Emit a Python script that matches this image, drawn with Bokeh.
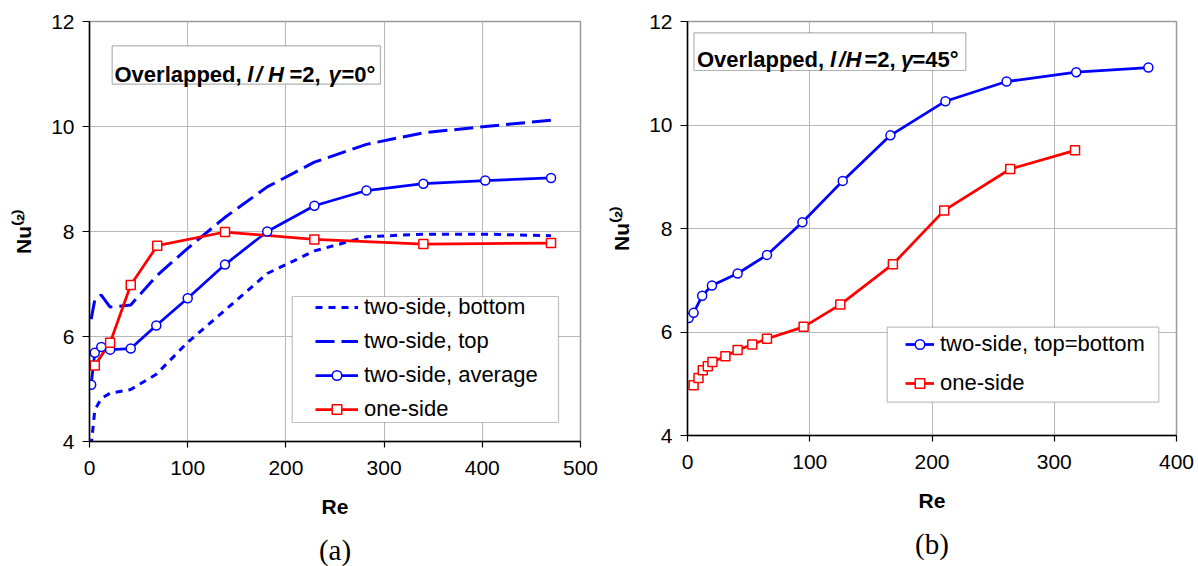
from bokeh.plotting import figure
from bokeh.layouts import row
from bokeh.models import Legend, LegendItem, BoxAnnotation, Label, Title, Range1d, FixedTicker
from bokeh.embed import file_html
from bokeh.resources import INLINE

# ---------------- data: panel (a) gamma = 0 deg ----------------
re_a = [1.7, 5.4, 12, 21, 42, 68, 100, 138, 181, 229, 282, 340, 403, 470]
nu_bottom_a = [3.92, 4.60, 4.82, 4.92, 4.99, 5.28, 5.89, 6.50, 7.20, 7.63, 7.90, 7.95, 7.95, 7.92]
nu_top_a = [6.33, 6.70, 6.79, 6.56, 6.60, 7.15, 7.68, 8.27, 8.85, 9.32, 9.66, 9.88, 10.00, 10.12]
nu_avg_a = [5.08, 5.69, 5.80, 5.75, 5.77, 6.21, 6.73, 7.37, 8.00, 8.49, 8.78, 8.91, 8.97, 9.02]
re_one_a = [5.4, 21, 42, 69, 138, 229, 340, 470]
nu_one_a = [5.45, 5.88, 6.98, 7.73, 7.99, 7.85, 7.76, 7.78]

# ---------------- data: panel (b) gamma = 45 deg ----------------
re_two_b = [1, 5, 12, 20, 41, 65, 94, 127, 166, 211, 261, 318, 377]
nu_two_b = [6.27, 6.37, 6.70, 6.90, 7.13, 7.49, 8.12, 8.92, 9.80, 10.46, 10.84, 11.02, 11.11]
re_one_b = [5, 9, 12.5, 16.6, 20.4, 31, 41, 53, 65, 95, 125, 168, 210, 264, 317]
nu_one_b = [4.97, 5.11, 5.26, 5.34, 5.42, 5.53, 5.65, 5.76, 5.87, 6.10, 6.53, 7.31, 8.35, 9.15, 9.51]

x_ticks_a = [0, 100, 200, 300, 400, 500]
x_ticks_b = [0, 100, 200, 300, 400]
y_ticks = [4, 6, 8, 10, 12]

SANS = "Liberation Sans"
SERIF = "Liberation Serif"
BLUE = "#0000FF"
RED = "#FF0000"


def make_fig(frame_w, frame_h, left, right, top, bottom, xmax, xticks, caption):
    p = figure(output_backend="svg", toolbar_location=None,
               frame_width=frame_w, frame_height=frame_h,
               min_border_left=left, min_border_right=right,
               min_border_top=top, min_border_bottom=bottom,
               x_range=Range1d(0, xmax), y_range=Range1d(4, 12))
    p.background_fill_color = "white"
    p.border_fill_color = "white"
    p.outline_line_color = "#9a9a9a"
    p.outline_line_width = 1.5
    p.xaxis.ticker = FixedTicker(ticks=xticks)
    p.yaxis.ticker = FixedTicker(ticks=y_ticks)
    p.grid.grid_line_color = "#b8b8b8"
    p.grid.grid_line_width = 1
    for ax in (p.xaxis[0], p.yaxis[0]):
        ax.axis_line_color = "black"
        ax.axis_line_width = 1.5
        ax.major_tick_line_color = "black"
        ax.major_tick_line_width = 1.2
        ax.major_tick_in = 0
        ax.minor_tick_line_color = None
        ax.major_label_text_font = SANS
        ax.major_label_text_font_size = "21px"
        ax.major_label_text_color = "black"
        ax.axis_label_text_font = SANS
        ax.axis_label_text_font_size = "21px"
        ax.axis_label_text_font_style = "bold"
        ax.axis_label_text_color = "black"
    p.xaxis.major_tick_out = 6
    p.yaxis.major_tick_out = 7
    p.xaxis.major_label_standoff = 13
    p.yaxis.major_label_standoff = 8
    p.xaxis.axis_label = "Re"
    p.yaxis.axis_label = "Nu\u207d\u00b2\u207e"
    p.xaxis.axis_label_standoff = 17
    p.yaxis.axis_label_standoff = 13
    p.add_layout(Title(text=caption, align="center", text_font=SERIF,
                       text_font_size="29px", text_font_style="normal",
                       text_color="black", standoff=22), "below")
    return p


def title_box(p, left, right, top, bottom, base_y, pieces):
    p.add_layout(BoxAnnotation(left=left, right=right, top=top, bottom=bottom,
                               fill_color="white", fill_alpha=1.0,
                               line_color="black", line_width=1.2))
    for txt, off, style in pieces:
        p.add_layout(Label(x=0, y=base_y, x_offset=off, text=txt,
                           text_font=SANS, text_font_size="22px",
                           text_font_style=style, text_color="black",
                           text_align="left", text_baseline="alphabetic"))


# ---------------- panel (a) ----------------
pa = make_fig(491, 420, 89, 20, 19, 127, 500, x_ticks_a, "(a)")
r_bot = pa.line(re_a, nu_bottom_a, line_color=BLUE, line_width=3, line_dash="7 6")
r_top = pa.line(re_a, nu_top_a, line_color=BLUE, line_width=3, line_dash="19 7")
r_avg_l = pa.line(re_a, nu_avg_a, line_color=BLUE, line_width=2.75)
r_one_l = pa.line(re_one_a, nu_one_a, line_color=RED, line_width=2.75)
r_avg_s = pa.scatter(re_a, nu_avg_a, marker="circle", size=9, fill_color="white",
                     line_color=BLUE, line_width=1.5)
r_one_s = pa.scatter(re_one_a, nu_one_a, marker="square", size=9, fill_color="white",
                     line_color=RED, line_width=1.5)

title_box(pa, 23.1, 296.3, 11.537, 10.806, 10.985,
          [("Overlapped,", 25, "bold"), ("l", 157.7, "bold italic"),
           ("/", 166.5, "bold italic"), ("H", 178.5, "bold italic"),
           ("=2,", 200, "bold"), ("\u03b3", 239, "bold italic"), ("=0\u00b0", 252, "bold")])

pa.add_layout(BoxAnnotation(left=206.4, right=477.6, top=6.762, bottom=4.362,
                            fill_color="white", fill_alpha=1.0,
                            line_color="#333333", line_width=1.2))
leg_a = Legend(items=[LegendItem(label="two-side, bottom", renderers=[r_bot]),
                      LegendItem(label="two-side, top", renderers=[r_top]),
                      LegendItem(label="two-side, average", renderers=[r_avg_l, r_avg_s]),
                      LegendItem(label="one-side", renderers=[r_one_l, r_one_s])],
               location=(223, 16), margin=0, padding=3, spacing=8,
               glyph_width=43, glyph_height=24, label_height=24, label_standoff=6,
               label_text_font=SANS, label_text_font_size="22px", label_text_color="black",
               border_line_alpha=0, background_fill_alpha=0)
pa.add_layout(leg_a)

# ---------------- panel (b) ----------------
pb = make_fig(489, 414, 87, 22, 21, 131, 400, x_ticks_b, "(b)")
r2_l = pb.line(re_two_b, nu_two_b, line_color=BLUE, line_width=2.75)
r1_l = pb.line(re_one_b, nu_one_b, line_color=RED, line_width=2.75)
r2_s = pb.scatter(re_two_b, nu_two_b, marker="circle", size=9, fill_color="white",
                  line_color=BLUE, line_width=1.5)
r1_s = pb.scatter(re_one_b, nu_one_b, marker="square", size=9, fill_color="white",
                  line_color=RED, line_width=1.5)

title_box(pb, 5.3, 227.7, 11.78, 11.053, 11.26,
          [("Overlapped,", 9.5, "bold"), ("l", 142.5, "bold italic"),
           ("/", 151.5, "bold italic"), ("H", 158, "bold italic"),
           ("=2,", 177, "bold"), ("\u03b3", 213.5, "bold italic"), ("=45\u00b0", 225, "bold")])

pb.add_layout(BoxAnnotation(left=163.4, right=385.5, top=6.093, bottom=4.644,
                            fill_color="white", fill_alpha=1.0,
                            line_color="#333333", line_width=1.2))
leg_b = Legend(items=[LegendItem(label="two-side, top=bottom", renderers=[r2_l, r2_s]),
                      LegendItem(label="one-side", renderers=[r1_l, r1_s])],
               location=(215, 36), margin=0, padding=3, spacing=13,
               glyph_width=29, glyph_height=24, label_height=24, label_standoff=6,
               label_text_font=SANS, label_text_font_size="22px", label_text_color="black",
               border_line_alpha=0, background_fill_alpha=0)
pb.add_layout(leg_b)

layout = row(pa, pb)
open("out.html", "w").write(file_html(layout, INLINE))
